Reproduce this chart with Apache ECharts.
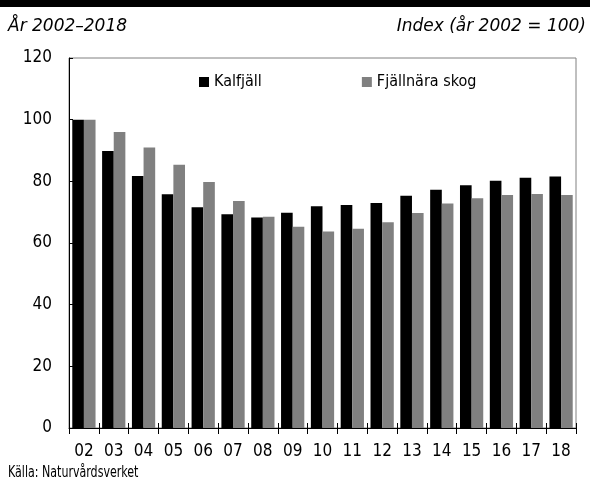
<!DOCTYPE html>
<html>
<head>
<meta charset="utf-8">
<script src="https://cdn.jsdelivr.net/npm/echarts@6/dist/echarts.min.js"></script>
<style>
  html, body { margin: 0; padding: 0; background: #fff; }
  #main { width: 590px; height: 484px; }
</style>
</head>
<body>
<div id="main"></div>
<script>
// år 2002-2018, index (år 2002 = 100)
const years = ['02', '03', '04', '05', '06', '07', '08', '09', '10', '11', '12', '13', '14', '15', '16', '17', '18']
const kalfjall = [100, 89.8, 81.7, 75.8, 71.6, 69.3, 68.3, 69.8, 71.9, 72.3, 73.0, 75.3, 77.3, 78.7, 80.2, 81.2, 81.6]
const fjallnaraSkog = [100, 96.0, 91.0, 85.4, 79.8, 73.6, 68.5, 65.3, 63.7, 64.6, 66.7, 69.7, 72.8, 74.5, 75.6, 75.9, 75.6]
const yTicks = [0, 20, 40, 60, 80, 100, 120]

const narrow = '"DejaVu Sans Condensed", "Liberation Sans Narrow", sans-serif'

let myChart = echarts.init(document.getElementById('main'))

myChart.setOption({
  animation: false,
  backgroundColor: '#fff',
  grid: {
    left: 69,
    right: 14,
    top: 58,
    bottom: 56,
    show: true,
    borderColor: '#808080',
    borderWidth: 1
  },
  legend: {
    left: 199,
    top: 74,
    padding: 0,
    icon: 'rect',
    itemWidth: 10,
    itemHeight: 10,
    itemGap: 100,
    textStyle: { fontFamily: narrow, fontSize: 16, color: '#000' },
    data: ['Kalfjäll', 'Fjällnära skog']
  },
  xAxis: [
    {
      type: 'category',
      data: years,
      position: 'bottom',
      axisLine: { lineStyle: { color: '#000', width: 1 } },
      axisTick: { show: true, length: 6, lineStyle: { color: '#000' } },
      axisLabel: { color: '#000', fontFamily: narrow, fontSize: 17, margin: 15 }
    },
    {
      // inre tickmarkeringar
      type: 'category',
      data: years,
      position: 'bottom',
      offset: 0,
      axisLine: { show: false },
      axisTick: { show: true, inside: true, length: 5, lineStyle: { color: '#000' } },
      axisLabel: { show: false }
    }
  ],
  yAxis: {
    type: 'value',
    min: yTicks[0],
    max: yTicks[yTicks.length - 1],
    interval: 20,
    axisLine: { show: true, lineStyle: { color: '#000', width: 1 } },
    axisTick: { show: true, inside: true, length: 4, lineStyle: { color: '#000' } },
    axisLabel: { color: '#000', fontFamily: narrow, fontSize: 17, margin: 17 },
    splitLine: { show: false }
  },
  series: [
    {
      name: 'Kalfjäll',
      type: 'bar',
      data: kalfjall,
      barGap: '0%',
      barCategoryGap: '22%',
      itemStyle: { color: '#000' }
    },
    {
      name: 'Fjällnära skog',
      type: 'bar',
      data: fjallnaraSkog,
      barGap: '0%',
      barCategoryGap: '22%',
      itemStyle: { color: '#808080' }
    }
  ],
  graphic: [
    { type: 'rect', left: 0, top: 0, shape: { width: 590, height: 7 }, style: { fill: '#000' } },
    {
      type: 'text', left: 8, top: 18,
      style: { text: 'År 2002–2018', font: 'italic 17px "DejaVu Sans"', fill: '#000' }
    },
    {
      type: 'text', right: 4, top: 18,
      style: { text: 'Index (år 2002 = 100)', font: 'italic 17px "DejaVu Sans"', fill: '#000' }
    },
    {
      type: 'text', x: 8, y: 466, scaleX: 0.82,
      style: { text: 'Källa: Naturvårdsverket', font: '15px ' + narrow, fill: '#000' }
    }
  ]
})
</script>
</body>
</html>
